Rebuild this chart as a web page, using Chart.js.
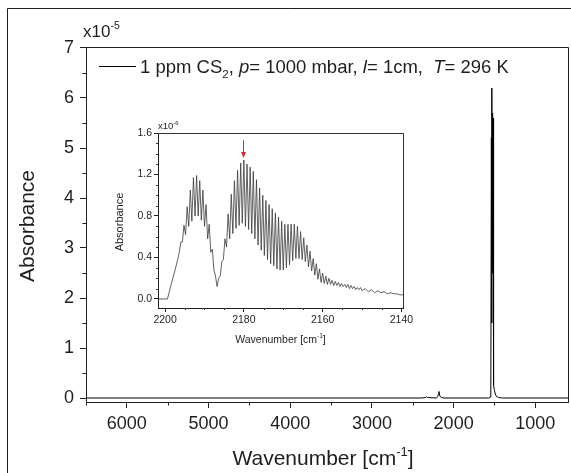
<!DOCTYPE html>
<html><head><meta charset="utf-8">
<script src="https://cdn.jsdelivr.net/npm/chart.js@4.4.0/dist/chart.umd.min.js"></script>
<style>
html,body{margin:0;padding:0;background:#fff;}
#wrap{position:relative;width:571px;height:473px;overflow:hidden;}
#main{position:absolute;left:0;top:0;}
#inset{position:absolute;left:100px;top:105px;}
</style></head><body>
<div id="wrap"><canvas id="main" width="571" height="473"></canvas><canvas id="inset" width="320" height="255"></canvas></div>
<script>
// ---- main spectrum (absorbance in units of 1e-5) ----
const mainWn  = [6500, 2400, 2340, 2330, 2320, 2210, 2195, 2185, 2180, 2175, 2165, 2150, 2120, 1570, 1545, 1538, 1534, 1531, 1528, 1525, 1521, 1518, 1514, 1508, 1500, 1490, 1475, 1450, 1400, 600];
const mainAbs = [0,    0,    0.01, 0.025,0.01, 0,    0.03, 0.08, 0.13, 0.08, 0.03, 0.01, 0,    0,    0.02, 5.2,  1.5,  6.2,  2.5,  5.7,  3.5,  5.6,  0.5,  0.25, 0.15, 0.08, 0.03, 0.01, 0,    0];
const mainXTicks = [6000, 5000, 4000, 3000, 2000, 1000];
const mainXLabels = ['6000', '5000', '4000', '3000', '2000', '1000'];
const mainXMinor = [6500, 5500, 4500, 3500, 2500, 1500];
const mainYTicks = [0, 1, 2, 3, 4, 5, 6, 7];
const mainYLabels = ['0', '1', '2', '3', '4', '5', '6', '7'];
const mainYMinor = [0.5, 1.5, 2.5, 3.5, 4.5, 5.5, 6.5];

// ---- inset: 2180 cm-1 band (absorbance in units of 1e-6) ----
const insetWn = [
  2201.8, 2199.4, 2198.6, 2197.6, 2196.8, 2196.4,
  2196.0, 2195.6, 2195.2, 2194.8, 2194.4, 2194.0, 2193.6, 2193.2, 2192.8, 2192.4,
  2192.0, 2191.6, 2191.2, 2190.8, 2190.4, 2190.0, 2189.6, 2189.2, 2188.8, 2188.4,
  2188.0, 2187.6, 2187.2, 2186.8, 2186.4, 2186.0, 2185.6, 2185.2, 2184.8, 2184.4,
  2184.0, 2183.6, 2183.2, 2182.8, 2182.4, 2182.0, 2181.6, 2181.2, 2180.8, 2180.4,
  2180.0, 2179.6, 2179.2, 2178.8, 2178.4, 2178.0, 2177.6, 2177.2, 2176.8, 2176.4,
  2176.0, 2175.6, 2175.2, 2174.8, 2174.4, 2174.0, 2173.6, 2173.2, 2172.8, 2172.4,
  2172.0, 2171.6, 2171.2, 2170.8, 2170.4, 2170.0, 2169.6, 2169.2, 2168.8, 2168.4,
  2168.0, 2167.6, 2167.2, 2166.8, 2166.4, 2166.0, 2165.6, 2165.2, 2164.8, 2164.4,
  2164.0, 2163.6, 2163.2, 2162.8, 2162.4, 2162.0, 2161.6, 2161.2, 2160.8, 2160.4,
  2160.0, 2159.6, 2159.2, 2158.8, 2158.4, 2158.0, 2157.6, 2157.2, 2156.8, 2156.4,
  2156.0, 2155.6, 2155.2, 2154.8, 2154.4, 2154.0, 2153.6, 2153.2, 2152.8, 2152.4,
  2152.0, 2151.6, 2151.2, 2150.8, 2150.4, 2150.0,
  2149.2, 2148.4, 2147.6, 2146.8, 2146.0, 2145.2, 2144.4, 2143.6, 2142.8, 2142.0,
  2141.2, 2140.4, 2139.6
];
const insetAbs = [
  0, 0, 0.12, 0.26, 0.38, 0.45,
  0.55, 0.55, 0.71, 0.62, 0.89, 0.70, 1.05, 0.75, 1.17, 0.80,
  1.19, 0.80, 1.14, 0.76, 1.05, 0.70, 0.91, 0.58, 0.72, 0.45,
  0.48, 0.28, 0.22, 0.12, 0.20, 0.22, 0.36, 0.38, 0.58, 0.50,
  0.82, 0.58, 1.01, 0.63, 1.14, 0.68, 1.24, 0.71, 1.31, 0.73,
  1.34, 0.70, 1.30, 0.67, 1.27, 0.63, 1.23, 0.58, 1.15, 0.52,
  1.07, 0.47, 1.00, 0.42, 0.95, 0.38, 0.91, 0.34, 0.87, 0.32,
  0.83, 0.29, 0.79, 0.28, 0.75, 0.28, 0.72, 0.30, 0.72, 0.33,
  0.72, 0.37, 0.72, 0.39, 0.70, 0.39, 0.65, 0.38, 0.59, 0.36,
  0.52, 0.31, 0.46, 0.27, 0.39, 0.23, 0.34, 0.19, 0.29, 0.16,
  0.25, 0.15, 0.22, 0.14, 0.20, 0.14, 0.18, 0.13, 0.17, 0.13,
  0.16, 0.12, 0.15, 0.12, 0.14, 0.11, 0.14, 0.10, 0.13, 0.10,
  0.12, 0.09, 0.11, 0.09, 0.11, 0.08,
  0.10, 0.07, 0.09, 0.06, 0.08, 0.06, 0.07, 0.05, 0.06, 0.05,
  0.05, 0.04, 0.04
];
const insetXTicks = [2200, 2180, 2160, 2140];
const insetXLabels = ['2200', '2180', '2160', '2140'];
const insetXMinor = [2195, 2190, 2185, 2175, 2170, 2165, 2155, 2150, 2145];
const insetYTicks = [0, 0.4, 0.8, 1.2, 1.6];
const insetYLabels = ['0.0', '0.4', '0.8', '1.2', '1.6'];
const insetYMinor = [0.1, 0.2, 0.3, 0.5, 0.6, 0.7, 0.9, 1.0, 1.1, 1.3, 1.4, 1.5];
const arrowWn = [2180.3];
const arrowAbs = [1.53, 1.36];

const FAM = '"Liberation Sans", Arial, Helvetica, sans-serif';
const INK = '#1e1e1e';

function rich(ctx, x, y, segs, size, align) {
  let total = 0;
  const fonts = segs.map(s => {
    const sz = (s.sub || s.sup) ? size * 0.62 : size;
    return (s.it ? 'italic ' : '') + sz + 'px ' + FAM;
  });
  segs.forEach((s, i) => { ctx.font = fonts[i]; total += ctx.measureText(s.t).width; });
  let cx = align === 'center' ? x - total / 2 : x;
  ctx.textAlign = 'left';
  ctx.textBaseline = 'alphabetic';
  segs.forEach((s, i) => {
    ctx.font = fonts[i];
    const dy = s.sub ? size * 0.28 : (s.sup ? -size * 0.45 : 0);
    ctx.fillText(s.t, cx, y + dy);
    cx += ctx.measureText(s.t).width;
  });
}

function minorTicks(ctx, chart, xs, ys, len) {
  const a = chart.chartArea, sx = chart.scales.x, sy = chart.scales.y;
  ctx.beginPath();
  xs.forEach(v => { const p = Math.round(sx.getPixelForValue(v)) + 0.5; ctx.moveTo(p, a.bottom); ctx.lineTo(p, a.bottom + len); });
  ys.forEach(v => { const p = Math.round(sy.getPixelForValue(v)) + 0.5; ctx.moveTo(a.left, p); ctx.lineTo(a.left - len, p); });
  ctx.stroke();
}

const mainDecor = {
  id: 'mainDecor',
  afterDraw(chart) {
    const ctx = chart.ctx, a = chart.chartArea;
    ctx.save();
    ctx.strokeStyle = INK; ctx.lineWidth = 1;
    ctx.beginPath();
    ctx.moveTo(7.5, 480); ctx.lineTo(7.5, 8.5); ctx.lineTo(580, 8.5);
    ctx.stroke();
    ctx.beginPath();
    ctx.moveTo(a.left, a.top + 0.5); ctx.lineTo(a.right + 0.5, a.top + 0.5); ctx.lineTo(a.right + 0.5, a.bottom);
    ctx.stroke();
    minorTicks(ctx, chart, mainXMinor, mainYMinor, 3.5);
    ctx.fillStyle = INK;
    rich(ctx, 83, 37, [{t: 'x10'}, {t: '-5', sup: true}], 17);
    ctx.beginPath(); ctx.moveTo(99, 66.5); ctx.lineTo(136, 66.5); ctx.strokeStyle = '#000'; ctx.stroke();
    rich(ctx, 140, 72.5, [
      {t: '1 ppm CS'}, {t: '2', sub: true}, {t: ', '}, {t: 'p', it: true}, {t: '= 1000 mbar, '},
      {t: 'l', it: true}, {t: '= 1cm,  '}, {t: 'T', it: true}, {t: '= 296 K'}
    ], 18.5);
    rich(ctx, 323, 465, [{t: 'Wavenumber [cm'}, {t: '-1', sup: true}, {t: ']'}], 21, 'center');
    ctx.save();
    ctx.translate(28, 226); ctx.rotate(-Math.PI / 2);
    ctx.font = '21px ' + FAM; ctx.textAlign = 'center'; ctx.textBaseline = 'middle';
    ctx.fillText('Absorbance', 0, 0);
    ctx.restore();
    ctx.restore();
  }
};

const insetDecor = {
  id: 'insetDecor',
  afterDraw(chart) {
    const ctx = chart.ctx, a = chart.chartArea, sx = chart.scales.x, sy = chart.scales.y;
    ctx.save();
    ctx.strokeStyle = '#333'; ctx.lineWidth = 1;
    ctx.beginPath();
    ctx.moveTo(a.left, a.top + 0.5); ctx.lineTo(a.right + 0.5, a.top + 0.5); ctx.lineTo(a.right + 0.5, a.bottom);
    ctx.stroke();
    minorTicks(ctx, chart, insetXMinor, insetYMinor, 2);
    ctx.fillStyle = INK;
    rich(ctx, 58, 24, [{t: 'x10'}, {t: '-6', sup: true}], 9.5);
    rich(ctx, (a.left + a.right) / 2, 238, [{t: 'Wavenumber [cm'}, {t: '-1', sup: true}, {t: ']'}], 10.5, 'center');
    ctx.save();
    ctx.translate(20, 117); ctx.rotate(-Math.PI / 2);
    ctx.font = '11px ' + FAM; ctx.textAlign = 'center'; ctx.textBaseline = 'middle';
    ctx.fillText('Absorbance', 0, 0);
    ctx.restore();
    const ax = Math.round(sx.getPixelForValue(arrowWn[0])) + 0.5;
    const y0 = sy.getPixelForValue(arrowAbs[0]), y1 = sy.getPixelForValue(arrowAbs[1]);
    ctx.strokeStyle = '#e02828'; ctx.fillStyle = '#e02828'; ctx.lineWidth = 1;
    ctx.beginPath(); ctx.moveTo(ax, y0); ctx.lineTo(ax, y1 - 5); ctx.stroke();
    ctx.beginPath(); ctx.moveTo(ax - 2.5, y1 - 6); ctx.lineTo(ax + 2.5, y1 - 6); ctx.lineTo(ax, y1); ctx.closePath(); ctx.fill();
    ctx.restore();
  }
};

function axisCommon(size, tickLen, pad, labels) {
  return {
    grid: { drawOnChartArea: false, drawTicks: true, tickLength: tickLen, tickWidth: 1, tickColor: INK },
    border: { display: true, color: INK, width: 1 },
    ticks: { color: INK, padding: pad, font: { size: size, family: FAM }, autoSkip: false, maxRotation: 0, minRotation: 0,
             callback: (v, i) => labels[i] }
  };
}

new Chart(document.getElementById('main'), {
  type: 'scatter',
  data: { datasets: [{
    data: mainWn.map((w, i) => ({ x: w, y: mainAbs[i] })),
    showLine: true, borderColor: '#000', borderWidth: 1, pointRadius: 0, tension: 0, fill: false
  }]},
  options: {
    responsive: false, animation: false, devicePixelRatio: 1,
    layout: { padding: { left: 0, top: 47, right: 3, bottom: 0 } },
    plugins: { legend: { display: false }, tooltip: { enabled: false } },
    scales: {
      x: Object.assign(axisCommon(18, 6, 5, mainXLabels), {
        type: 'linear', reverse: true, min: 600, max: 6500,
        afterBuildTicks: s => { s.ticks = mainXTicks.map(v => ({ value: v })); },
        afterFit: s => { s.height = 71; }
      }),
      y: Object.assign(axisCommon(18, 6, 6, mainYLabels), {
        type: 'linear', min: -0.08, max: 7.02,
        afterBuildTicks: s => { s.ticks = mainYTicks.map(v => ({ value: v })); },
        afterFit: s => { s.width = 86; }
      })
    }
  },
  plugins: [mainDecor]
});

new Chart(document.getElementById('inset'), {
  type: 'scatter',
  data: { datasets: [{
    data: insetWn.map((w, i) => ({ x: w, y: insetAbs[i] })),
    showLine: true, borderColor: '#3a3a3a', borderWidth: 0.8, pointRadius: 0, tension: 0, fill: false
  }]},
  options: {
    responsive: false, animation: false, devicePixelRatio: 1,
    layout: { padding: { left: 0, top: 28, right: 17, bottom: 0 } },
    plugins: { legend: { display: false }, tooltip: { enabled: false } },
    scales: {
      x: Object.assign(axisCommon(10.5, 4, 2, insetXLabels), {
        type: 'linear', reverse: true, min: 2139.6, max: 2201.8,
        afterBuildTicks: s => { s.ticks = insetXTicks.map(v => ({ value: v })); },
        afterFit: s => { s.height = 52; }
      }),
      y: Object.assign(axisCommon(10.5, 4, 2, insetYLabels), {
        type: 'linear', min: -0.087, max: 1.6,
        afterBuildTicks: s => { s.ticks = insetYTicks.map(v => ({ value: v })); },
        afterFit: s => { s.width = 58; }
      })
    }
  },
  plugins: [insetDecor]
});
</script>
</body></html>
